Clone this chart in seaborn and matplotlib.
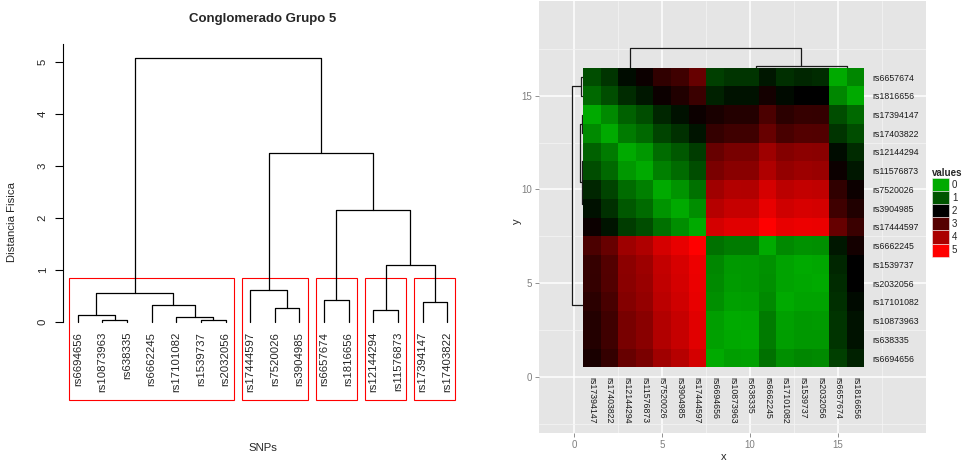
import numpy as np
import pandas as pd
import matplotlib
matplotlib.use("Agg")
import matplotlib.pyplot as plt
import seaborn as sns
from matplotlib.colors import LinearSegmentedColormap
from matplotlib.patches import Patch, Rectangle

# ---------------- left panel: hclust of the SNPs ----------------
leaf_labels = ["rs6694656", "rs10873963", "rs638335", "rs6662245", "rs17101082",
               "rs1539737", "rs2032056", "rs17444597", "rs7520026", "rs3904985",
               "rs6657674", "rs1816656", "rs12144294", "rs11576873", "rs17394147",
               "rs17403822"]
# R style merge table (negative = leaf in plotted order, positive = earlier merge)
hc_merge = [(-2, -3), (-6, -7), (-5, 2), (-1, 1), (-13, -14), (-9, -10), (-4, 3),
            (-15, -16), (-11, -12), (4, 7), (-8, 6), (5, 8), (9, 12), (11, 13), (10, 14)]
hc_height = [0.03, 0.04, 0.09, 0.13, 0.23, 0.27, 0.32, 0.38, 0.42, 0.55, 0.61,
             1.10, 2.15, 3.25, 5.08]
n_groups = 5

# ---------------- right panel: distance heatmap ----------------
col_labels = ["rs17394147", "rs17403822", "rs12144294", "rs11576873", "rs7520026",
              "rs3904985", "rs17444597", "rs6694656", "rs10873963", "rs638335",
              "rs6662245", "rs17101082", "rs1539737", "rs2032056", "rs6657674",
              "rs1816656"]
row_labels = ["rs6657674", "rs1816656", "rs17394147", "rs17403822", "rs12144294",
              "rs11576873", "rs7520026", "rs3904985", "rs17444597", "rs6662245",
              "rs1539737", "rs2032056", "rs17101082", "rs10873963", "rs638335",
              "rs6694656"]
dist = [
    [1.10, 1.40, 1.86, 2.14, 2.56, 2.75, 3.20, 1.25, 1.40, 1.40, 1.72, 1.46, 1.55, 1.50, 0.00, 0.42],
    [0.78, 1.10, 1.50, 1.72, 2.14, 2.38, 2.68, 1.62, 1.78, 1.78, 2.24, 1.88, 2.00, 2.00, 0.42, 0.00],
    [0.00, 0.38, 0.87, 1.10, 1.56, 1.80, 2.14, 2.30, 2.42, 2.42, 2.88, 2.50, 2.62, 2.60, 1.10, 0.78],
    [0.38, 0.00, 0.55, 0.78, 1.20, 1.44, 1.76, 2.60, 2.75, 2.75, 3.22, 2.85, 2.98, 2.95, 1.40, 1.10],
    [0.87, 0.55, 0.00, 0.22, 0.73, 0.96, 1.30, 3.22, 3.40, 3.40, 3.85, 3.55, 3.65, 3.62, 1.86, 1.50],
    [1.10, 0.78, 0.22, 0.00, 0.50, 0.75, 1.10, 3.42, 3.60, 3.60, 4.05, 3.74, 3.84, 3.80, 2.14, 1.72],
    [1.56, 1.20, 0.73, 0.50, 0.00, 0.27, 0.68, 3.88, 4.10, 4.08, 4.50, 4.18, 4.28, 4.24, 2.56, 2.14],
    [1.80, 1.44, 0.96, 0.75, 0.27, 0.00, 0.35, 4.14, 4.32, 4.32, 4.72, 4.43, 4.52, 4.48, 2.75, 2.38],
    [2.14, 1.76, 1.30, 1.10, 0.68, 0.35, 0.00, 4.48, 4.63, 4.63, 5.00, 4.71, 4.78, 4.76, 3.20, 2.68],
    [2.88, 3.22, 3.85, 4.05, 4.50, 4.72, 5.00, 0.68, 0.55, 0.56, 0.00, 0.40, 0.30, 0.33, 1.72, 2.24],
    [2.62, 2.98, 3.65, 3.84, 4.28, 4.52, 4.78, 0.42, 0.20, 0.23, 0.30, 0.09, 0.00, 0.04, 1.55, 2.00],
    [2.60, 2.95, 3.62, 3.80, 4.24, 4.48, 4.76, 0.38, 0.18, 0.23, 0.33, 0.08, 0.04, 0.00, 1.50, 2.00],
    [2.50, 2.85, 3.55, 3.74, 4.18, 4.43, 4.71, 0.33, 0.12, 0.14, 0.40, 0.00, 0.09, 0.08, 1.46, 1.88],
    [2.42, 2.75, 3.40, 3.60, 4.10, 4.32, 4.63, 0.14, 0.00, 0.03, 0.55, 0.12, 0.20, 0.18, 1.40, 1.78],
    [2.42, 2.75, 3.40, 3.60, 4.08, 4.32, 4.63, 0.12, 0.03, 0.00, 0.56, 0.14, 0.23, 0.23, 1.40, 1.78],
    [2.30, 2.60, 3.22, 3.42, 3.88, 4.14, 4.48, 0.00, 0.14, 0.12, 0.68, 0.33, 0.42, 0.38, 1.25, 1.62],
]
# dendrograms drawn around the heatmap (leaf = column / row index)
col_merge = [(-1, -2), (-3, -4), (-5, -6), (3, -7), (2, 4), (1, 5), (-9, -10), (-8, 7),
             (-13, -14), (-12, 9), (-11, 10), (8, 11), (-15, -16), (12, 13), (6, 14)]
col_height = [0.30, 0.20, 0.15, 0.30, 0.40, 0.45, 0.05, 0.10, 0.05, 0.10, 0.30, 0.40,
              0.35, 0.60, 1.57]
row_merge = [(-16, -15), (-14, -13), (-12, -11), (-9, -8), (-10, 4), (3, 5), (2, 6),
             (-3, -2), (-1, 8), (-6, -5), (-4, 10), (-7, 11), (9, 12), (1, 13)]
row_height = [0.60, 0.53, 0.45, 0.20, 0.30, 0.53, 0.68, 0.05, 0.10, 0.05, 0.10, 0.30,
              0.40, 1.11]
legend_values = [0, 1, 2, 3, 4, 5]


def dendro_lines(merge, heights, leaf_pos):
    # returns U shaped segments (positions, heights) like plot.hclust
    pos, hgt, segs = [], [], []

    def node(k):
        if k < 0:
            return leaf_pos[-k - 1], 0.0
        return pos[k - 1], hgt[k - 1]

    for (a, b), h in zip(merge, heights):
        pa, ha = node(a)
        pb, hb = node(b)
        segs.append((np.array([pa, pa, pb, pb]), np.array([ha, h, h, hb])))
        pos.append((pa + pb) / 2)
        hgt.append(h)
    return segs


def cut_groups(merge, k):
    leaves = []
    for a, b in merge:
        la = [-a] if a < 0 else leaves[a - 1]
        lb = [-b] if b < 0 else leaves[b - 1]
        leaves.append(la + lb)
    n = len(merge) + 1
    top = set(range(n - k + 1, n))
    groups = []
    for m in sorted(top):
        for c in merge[m - 1]:
            if c not in top:
                groups.append([-c] if c < 0 else leaves[c - 1])
    return sorted((min(g), max(g)) for g in groups)


sns.set_theme(style="white")
plt.rcParams["font.family"] = ["Liberation Sans", "DejaVu Sans"]

fig = plt.figure(figsize=(9.65, 4.61), dpi=100)

# ---------------- left: dendrogram ----------------
ax1 = fig.add_axes([63 / 965, 61 / 461, 399 / 965, 356 / 461])
leaf_x = np.arange(1, len(leaf_labels) + 1)
for xs, ys in dendro_lines(hc_merge, hc_height, leaf_x):
    ax1.plot(xs, ys, color="black", lw=0.9)
for x, lab in zip(leaf_x, leaf_labels):
    ax1.text(x, -0.19, lab, rotation=90, ha="center", va="top", fontsize=8.2)

rect_top = (sorted(hc_height)[-(n_groups - 1)] + sorted(hc_height)[-n_groups]) / 2
for lo, hi in cut_groups(hc_merge, n_groups):
    ax1.add_patch(Rectangle((lo - 0.34, -1.5), hi - lo + 0.67, rect_top + 1.5,
                            fill=False, edgecolor="red", lw=0.8, clip_on=False))

for s in ["top", "right", "bottom"]:
    ax1.spines[s].set_visible(False)
ax1.spines["left"].set_bounds(0, 5.35)
ax1.spines["left"].set_linewidth(0.8)
ax1.spines["left"].set_color("black")
ax1.set_xticks([])
ax1.set_yticks(range(6))
ax1.set_xlim(0.4, 16.6)
ax1.set_ylim(-1.5, 5.35)
ax1.tick_params(axis="y", left=True, length=6, width=0.8, color="black",
                labelsize=8.2, pad=5, labelrotation=90)
for t in ax1.get_yticklabels():
    t.set_va("center")
ax1.set_title("Conglomerado Grupo 5", fontsize=9.5, fontweight="bold", pad=16)
ax1.set_ylabel("Distancia Fisica", fontsize=8.2)
ax1.yaxis.set_label_coords(-0.115, 0.5)
ax1.set_xlabel("SNPs", fontsize=8.2, va="top")
ax1.xaxis.set_label_coords(0.5, -0.12)

# ---------------- right: heatmap with dendrograms ----------------
ax2 = fig.add_axes([539 / 965, 28 / 461, 387 / 965, 432 / 461])
ax2.set_facecolor("#E5E5E5")
ax2.set_xticks([0, 5, 10, 15])
ax2.set_yticks([0, 5, 10, 15])
ax2.set_xticks(np.arange(-2.5, 20, 5), minor=True)
ax2.set_yticks(np.arange(-2.5, 20, 5), minor=True)
ax2.set_xlim(-2.0, 20.0)
ax2.set_ylim(-3.0, 20.06)
ax2.grid(which="major", color="white", lw=1.1)
ax2.grid(which="minor", color="#F4F4F4", lw=0.55)
ax2.set_axisbelow(True)
for s in ax2.spines.values():
    s.set_visible(False)
ax2.tick_params(which="major", bottom=True, left=True, length=3, width=0.6,
                color="#7F7F7F", labelcolor="#7F7F7F", labelsize=7, pad=2)
ax2.tick_params(which="minor", length=0)
ax2.set_xlabel("x", fontsize=8, va="top")
ax2.xaxis.set_label_coords(0.478, -0.043)
ax2.set_ylabel("y", fontsize=8)
ax2.yaxis.set_label_coords(-0.045, 0.49)

n = len(col_labels)
col_base = n + 0.5 - 0.5   # leaves hidden below the top edge of the tiles
for xs, hs in dendro_lines(col_merge, col_height, np.arange(1, n + 1)):
    ax2.plot(xs, col_base + hs, color="#1A1A1A", lw=0.9)
row_base = 1.0
for ys, hs in dendro_lines(row_merge, row_height, np.arange(1, n + 1)):
    ax2.plot(row_base - hs, ys, color="#1A1A1A", lw=0.9)

cmap = LinearSegmentedColormap.from_list(
    "gbr", [(0.0, "#00AA00"), (0.4, "#000000"), (1.0, "#FF0000")])
dist_df = pd.DataFrame(dist, index=row_labels, columns=col_labels)

hm = ax2.inset_axes([0.5, 0.5, n, n], transform=ax2.transData)
sns.heatmap(dist_df, ax=hm, cmap=cmap, vmin=0, vmax=5, cbar=False,
            xticklabels=True, yticklabels=True)
hm.grid(False)
hm.set_xlabel("")
hm.set_ylabel("")
hm.yaxis.tick_right()
hm.set_yticklabels(row_labels, rotation=0, ha="left", fontsize=6.3, color="#1A1A1A")
hm.set_xticklabels(col_labels, rotation=270, ha="center", va="top", fontsize=6.3,
                   color="#1A1A1A")
hm.tick_params(axis="y", length=0, pad=6, right=True, left=False)
hm.tick_params(axis="x", length=0, pad=6.8)

handles = [Patch(facecolor=cmap(v / 5), edgecolor="#EEEEEE", lw=0.4, label=str(v))
           for v in legend_values]
fig.legend(handles=handles, title="values", loc="upper left",
           bbox_to_anchor=(932 / 965, 1 - 168 / 461), frameon=False, fontsize=7,
           title_fontproperties={"weight": "bold", "size": 7}, handlelength=1.75,
           handleheight=1.7, labelspacing=0, handletextpad=0.3, borderpad=0,
           borderaxespad=0, alignment="left")

fig.savefig("out.png", dpi=100)
